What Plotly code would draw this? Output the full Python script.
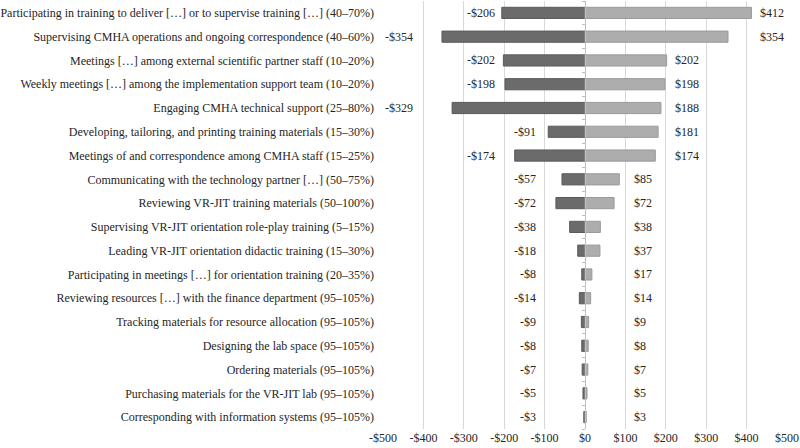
import plotly.graph_objects as go

categories = [
    "Participating in training to deliver […] or to supervise training […] (40–70%)",
    "Supervising CMHA operations and ongoing correspondence (40–60%)",
    "Meetings […] among external scientific partner staff (10–20%)",
    "Weekly meetings […] among the implementation support team (10–20%)",
    "Engaging CMHA technical support (25–80%)",
    "Developing, tailoring, and printing training materials (15–30%)",
    "Meetings of and correspondence among CMHA staff (15–25%)",
    "Communicating with the technology partner […] (50–75%)",
    "Reviewing VR-JIT training materials (50–100%)",
    "Supervising VR-JIT orientation role-play training (5–15%)",
    "Leading VR-JIT orientation didactic training (15–30%)",
    "Participating in meetings […] for orientation training (20–35%)",
    "Reviewing resources […] with the finance department (95–105%)",
    "Tracking materials for resource allocation (95–105%)",
    "Designing the lab space (95–105%)",
    "Ordering materials (95–105%)",
    "Purchasing materials for the VR-JIT lab (95–105%)",
    "Corresponding with information systems (95–105%)",
]
low_values = [-206, -354, -202, -198, -329, -91, -174, -57, -72, -38, -18, -8, -14, -9, -8, -7, -5, -3]
high_values = [412, 354, 202, 198, 188, 181, 174, 85, 72, 38, 37, 17, 14, 9, 8, 7, 5, 3]
tick_values = [-500, -400, -300, -200, -100, 0, 100, 200, 300, 400, 500]
tick_labels = ["-$500", "-$400", "-$300", "-$200", "-$100", "$0", "$100", "$200", "$300", "$400", "$500"]

FONT = "Liberation Serif, Times New Roman, serif"
TXT = "#262626"

fig = go.Figure()
fig.add_trace(go.Bar(
    y=categories, x=low_values, orientation="h", width=0.47,
    marker=dict(color="#6b6b6b", line=dict(color="#5a5a5a", width=1)),
    showlegend=False, hoverinfo="x+y",
))
fig.add_trace(go.Bar(
    y=categories, x=high_values, orientation="h", width=0.47,
    marker=dict(color="#adadad", line=dict(color="#9a9a9a", width=1)),
    showlegend=False, hoverinfo="x+y",
))
# invisible trace to host the centre axis with tick marks
fig.add_trace(go.Scatter(x=[0], y=[0], yaxis="y2", mode="markers",
                         marker=dict(opacity=0), showlegend=False, hoverinfo="skip"))


def column(v):
    a = abs(v)
    if a < 100:
        return 117
    if a < 250:
        return 218
    return 420


annotations = []
for cat, lo, hi in zip(categories, low_values, high_values):
    annotations.append(dict(
        x=-column(lo), y=cat, xref="x", yref="y", text=f"-${abs(lo)}",
        showarrow=False, xanchor="right", font=dict(family=FONT, size=12, color=TXT),
    ))
    annotations.append(dict(
        x=column(hi) + (8 if abs(hi) >= 250 else 0), y=cat, xref="x", yref="y", text=f"${hi}",
        showarrow=False, xanchor="left", font=dict(family=FONT, size=12, color=TXT),
    ))

n = len(categories)
fig.update_layout(
    width=800, height=448,
    margin=dict(l=383, r=13, t=1, b=19),
    paper_bgcolor="white", plot_bgcolor="white",
    barmode="overlay",
    font=dict(family=FONT, size=12, color=TXT),
    annotations=annotations,
    xaxis=dict(
        range=[-500, 500], tickvals=tick_values, ticktext=tick_labels,
        showgrid=True, gridcolor="#d9d9d9", gridwidth=1, automargin=False,
        zeroline=False, showline=False, ticks="",
        tickfont=dict(family=FONT, size=12, color=TXT),
    ),
    yaxis=dict(
        autorange="reversed", showgrid=False, zeroline=False, showline=False,
        ticks="", ticklabelstandoff=8, automargin=False,
        tickfont=dict(family=FONT, size=12, color=TXT),
    ),
    yaxis2=dict(
        overlaying="y", anchor="free", position=0.5, side="left", automargin=False,
        range=[n - 0.5, -0.5], tickvals=[i + 0.5 for i in range(-1, n)],
        ticks="outside", ticklen=3, tickcolor="#bfbfbf",
        showticklabels=False, showgrid=False, zeroline=False,
        showline=True, linecolor="#bfbfbf", linewidth=1,
    ),
)

fig.write_html("out.html", config={"displayModeBar": False},
               post_script="document.body.style.margin='0';")
